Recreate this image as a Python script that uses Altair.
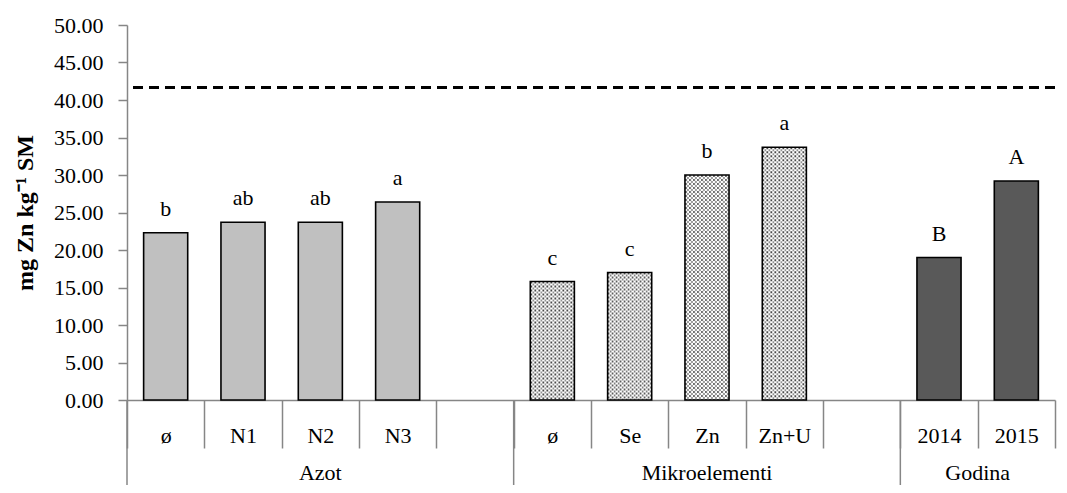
import altair as alt
import pandas as pd
import urllib.parse

# ---- data ----
cat_ids = ["a0", "a1", "a2", "a3", "a4", "m0", "m1", "m2", "m3", "m4", "g0", "g1"]
cat_labels = ["ø", "N1", "N2", "N3", "", "ø", "Se", "Zn", "Zn+U", "", "2014", "2015"]
series = ["Azot"] * 5 + ["Mikro"] * 5 + ["Godina"] * 2
values = [22.3, 23.7, 23.7, 26.4, None, 15.8, 17.0, 30.0, 33.7, None, 19.0, 29.2]
letters = ["b", "ab", "ab", "a", "", "c", "c", "b", "a", "", "B", "A"]
LIMIT = 41.7
y_ticks = [0, 5, 10, 15, 20, 25, 30, 35, 40, 45, 50]

group_names = ["Azot", "Mikroelementi", "Godina"]
group_start = ["a0", "m0", "g0"]
group_center_mid = ["a2", "m2"]          # label centred on the middle of this slot
group_center_edge = ["g1"]               # label centred on the left edge of this slot

series_domain = ["Azot", "Mikro", "Godina"]
series_colors = ["#c0c0c0", "#c4c4c4", "#595959"]

df = pd.DataFrame({"cat": cat_ids, "series": series, "value": values, "letter": letters})
df_groups = pd.DataFrame({"cat": group_start})
df_gl1 = pd.DataFrame({"cat": group_center_mid, "name": group_names[:2]})
df_gl2 = pd.DataFrame({"cat": group_center_edge, "name": group_names[2:]})

FONT = "Liberation Serif"
GRAY = "#868686"
W, H = 928, 375
FS = 22

label_expr = "[" + ",".join("'%s'" % l for l in cat_labels) + "][indexof([" + \
    ",".join("'%s'" % c for c in cat_ids) + "], datum.value)]"

xscale = alt.Scale(domain=cat_ids, paddingInner=0, paddingOuter=0)
xaxis = alt.Axis(title=None, labelExpr=label_expr, tickBand="extent", tickSize=48,
                 labelPadding=-13, labelBaseline="middle", labelAngle=0)
x_enc = alt.X("cat:N", sort=cat_ids, scale=xscale, axis=xaxis)

yscale = alt.Scale(domain=[0, 50], nice=False)
yaxis = alt.Axis(values=y_ticks, format=".2f", tickSize=9, grid=False, labelPadding=15,
                 title="mg Zn kg⁻¹ SM", titleX=-102, titleBaseline="middle")
y_enc = alt.Y("value:Q", scale=yscale, axis=yaxis)

base = alt.Chart(df).transform_filter("isValid(datum.value)")

bars = base.mark_bar(width=alt.RelativeBandSize(0.57)).encode(
    x=x_enc, y=y_enc,
    color=alt.Color("series:N", scale=alt.Scale(domain=series_domain, range=series_colors),
                    legend=None),
)

pattern_svg = (
    "<svg xmlns='http://www.w3.org/2000/svg' width='100%' height='100%'>"
    "<defs><pattern id='p' width='4' height='4' patternUnits='userSpaceOnUse'>"
    "<rect width='4' height='4' fill='white'/>"
    "<circle cx='1' cy='1' r='1' fill='#3a3a3a'/>"
    "<circle cx='3' cy='3' r='0.9' fill='#6e6e6e'/>"
    "</pattern></defs><rect width='100%' height='100%' fill='url(#p)'/></svg>"
)
pattern_url = "data:image/svg+xml;charset=utf-8," + urllib.parse.quote(pattern_svg)

texture = base.transform_filter("datum.series == 'Mikro'").mark_image(
    width=alt.RelativeBandSize(0.57), aspect=False
).encode(x=x_enc, y=y_enc, y2=alt.datum(0), url=alt.value(pattern_url))

outline = base.mark_bar(width=alt.RelativeBandSize(0.57), fill="transparent",
                        stroke="black", strokeWidth=1.6).encode(x=x_enc, y=y_enc)

texts = base.mark_text(font=FONT, fontSize=FS, baseline="alphabetic", dy=-17,
                       color="black").encode(x=x_enc, y=y_enc, text="letter:N")

limit_rule = alt.Chart(df).mark_rule(color="black", strokeDash=[10, 6],
                                     strokeWidth=2.5).encode(
    y=alt.Y(datum=LIMIT, scale=yscale, axis=yaxis))

seps = alt.Chart(df_groups).mark_rule(color=GRAY, strokeWidth=1.5).encode(
    x=alt.X("cat:N", sort=cat_ids, scale=xscale, axis=xaxis, bandPosition=0),
    y=alt.value(H), y2=alt.value(H + 93),
)

gl1 = alt.Chart(df_gl1).mark_text(font=FONT, fontSize=FS, baseline="middle",
                                  color="black").encode(
    x=alt.X("cat:N", sort=cat_ids, scale=xscale, axis=xaxis, bandPosition=0.5),
    y=alt.value(H + 73), text="name:N")
gl2 = alt.Chart(df_gl2).mark_text(font=FONT, fontSize=FS, baseline="middle",
                                  color="black").encode(
    x=alt.X("cat:N", sort=cat_ids, scale=xscale, axis=xaxis, bandPosition=0),
    y=alt.value(H + 73), text="name:N")

chart = alt.layer(bars, texture, outline, texts, limit_rule, seps, gl1, gl2).properties(
    width=W, height=H,
    padding={"left": 119, "top": 17, "right": 4, "bottom": 85},
    autosize=alt.AutoSizeParams(type="none"),
    background="white",
).configure_view(stroke=None).configure_axis(
    labelFont=FONT, labelFontSize=FS, labelColor="black",
    titleFont=FONT, titleFontSize=24, titleFontWeight="bold", titleColor="black",
    domainColor=GRAY, domainWidth=1.5, tickColor=GRAY, tickWidth=1.5,
    labelOverlap=False, grid=False,
)

chart.save("out.html", embed_options={"renderer": "svg", "actions": False})
